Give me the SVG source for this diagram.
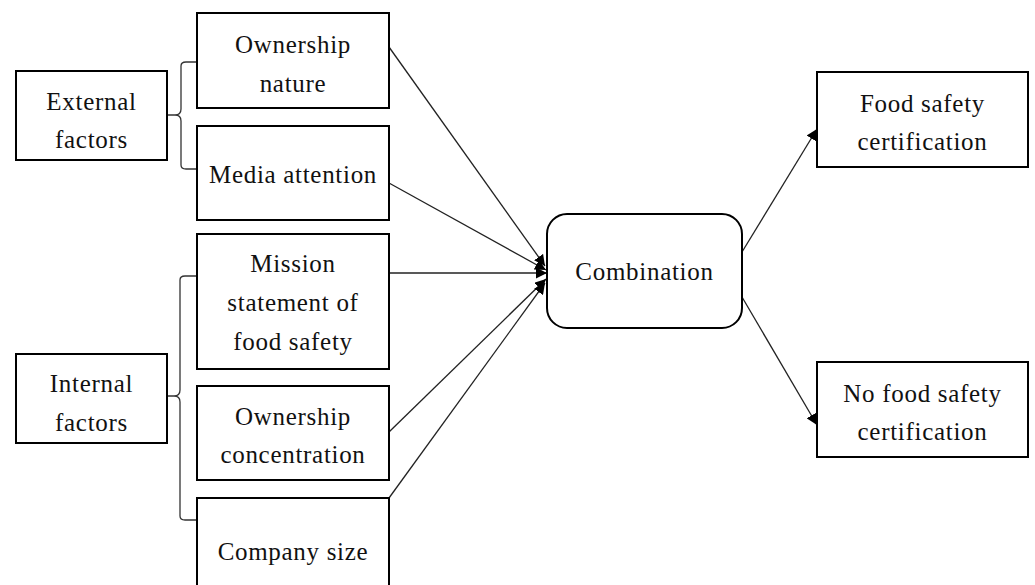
<svg xmlns="http://www.w3.org/2000/svg" width="1035" height="585" viewBox="0 0 1035 585">
<style>
.box{fill:#fff;stroke:#000;stroke-width:2}
.t{font-family:"Liberation Serif","Times New Roman",serif;font-size:25px;fill:#111;text-anchor:middle;letter-spacing:0.7px}
.c{fill:none;stroke:#222;stroke-width:1.3}
.br{fill:none;stroke:#333;stroke-width:1.3}
</style>
<defs>
<marker id="ah" viewBox="0 0 10 10" refX="10" refY="5" markerWidth="11" markerHeight="11" markerUnits="userSpaceOnUse" orient="auto">
<path d="M0,0 L10,5 L0,10 z" fill="#000"/>
</marker>
</defs>
<rect width="1035" height="585" fill="#fff"/>
<g id="connectors">
<path class="br" d="M167,115 H175 Q181,115 181,109 V66 Q181,62 186,62 H197 M175,115 Q181,115 181,121 V165 Q181,169 186,169 H197"/>
<path class="br" d="M167,396 H174 Q180,396 180,390 V280 Q180,276 185,276 H197 M174,396 Q180,396 180,402 V516 Q180,520 185,520 H197"/>
<line class="c" x1="389" y1="47" x2="545" y2="266" marker-end="url(#ah)"/>
<line class="c" x1="389" y1="183" x2="546" y2="270" marker-end="url(#ah)"/>
<line class="c" x1="389" y1="273" x2="547" y2="273" marker-end="url(#ah)"/>
<line class="c" x1="389" y1="432" x2="546" y2="279" marker-end="url(#ah)"/>
<line class="c" x1="389" y1="498" x2="545" y2="283" marker-end="url(#ah)"/>
<line class="c" x1="742" y1="252" x2="817" y2="129" marker-end="url(#ah)"/>
<line class="c" x1="742" y1="297" x2="817" y2="425" marker-end="url(#ah)"/>
</g>
<g id="external"><rect class="box" x="16" y="71" width="151" height="89"/><text class="t" x="91.5" y="110">External</text><text class="t" x="91.5" y="148">factors</text></g>
<g id="internal"><rect class="box" x="16" y="354" width="151" height="89"/><text class="t" x="91.5" y="392">Internal</text><text class="t" x="91.5" y="431">factors</text></g>
<g id="ownership-nature"><rect class="box" x="197" y="13" width="192" height="95"/><text class="t" x="293" y="53">Ownership</text><text class="t" x="293" y="92">nature</text></g>
<g id="media-attention"><rect class="box" x="197" y="126" width="192" height="94"/><text class="t" x="293" y="183">Media attention</text></g>
<g id="mission"><rect class="box" x="197" y="234" width="192" height="135"/><text class="t" x="293" y="272">Mission</text><text class="t" x="293" y="311">statement of</text><text class="t" x="293" y="350">food safety</text></g>
<g id="ownership-concentration"><rect class="box" x="197" y="386" width="192" height="94"/><text class="t" x="293" y="425">Ownership</text><text class="t" x="293" y="463">concentration</text></g>
<g id="company-size"><rect class="box" x="197" y="498" width="192" height="92"/><text class="t" x="293" y="560">Company size</text></g>
<g id="combination"><rect class="box" x="547" y="214" width="195" height="114" rx="20" ry="20"/><text class="t" x="644.5" y="280">Combination</text></g>
<g id="food-safety"><rect class="box" x="817" y="72" width="211" height="95"/><text class="t" x="922.5" y="112">Food safety</text><text class="t" x="922.5" y="150">certification</text></g>
<g id="no-food-safety"><rect class="box" x="817" y="362" width="211" height="95"/><text class="t" x="922.5" y="402">No food safety</text><text class="t" x="922.5" y="440">certification</text></g>
</svg>
